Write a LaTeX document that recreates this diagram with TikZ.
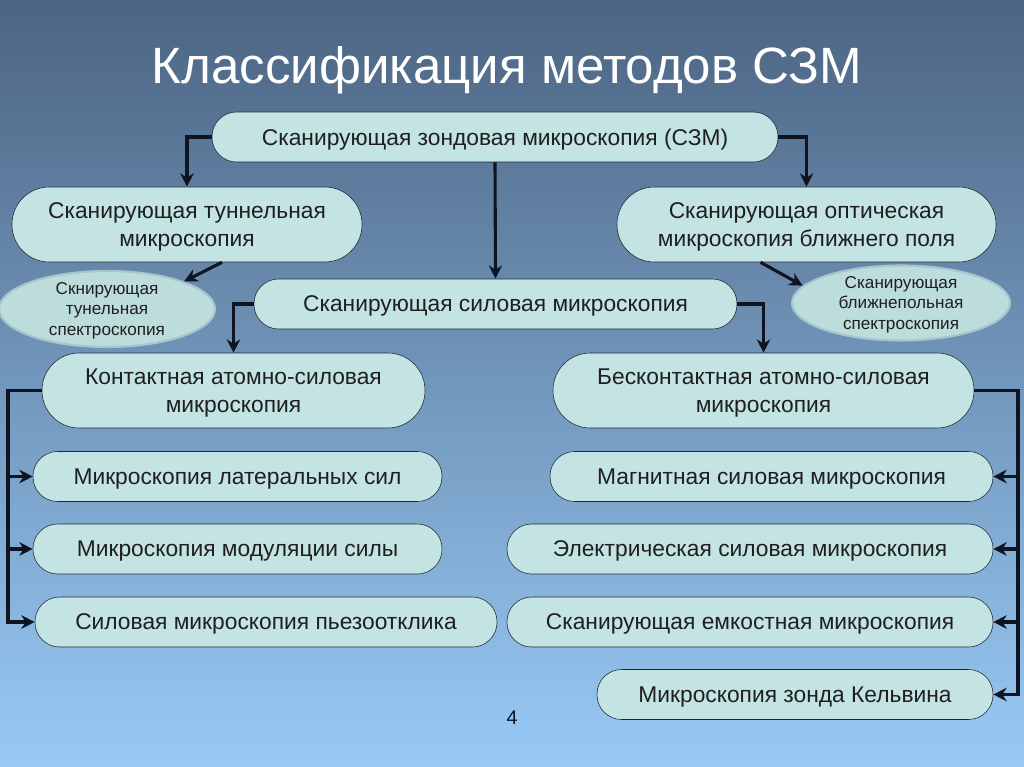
\documentclass[tikz,border=0pt]{standalone}
\usepackage{fontspec}
\setmainfont{Liberation Sans}
\usetikzlibrary{positioning, arrows.meta, shapes.geometric}
\definecolor{SlideTop}{RGB}{76,100,130}
\definecolor{SlideBottom}{RGB}{152,202,246}
\definecolor{BoxFill}{RGB}{196,228,228}
\definecolor{BoxEdge}{RGB}{30,40,50}
\definecolor{OvalFill}{RGB}{188,221,219}
\definecolor{OvalEdge}{RGB}{165,198,205}
\definecolor{InkDark}{RGB}{15,20,35}
\def\px{0.025cm}
\tikzset{
  pill/.style={draw=BoxEdge, thin, fill=BoxFill, rounded corners=17.5pt, minimum height=50*\px,
    inner sep=0pt, text depth=-1.5pt, align=center, font=\fontsize{16.2}{19.8}\selectfont, text=black!88},
  bigpill/.style={pill, rounded corners=26.5pt, minimum height=75*\px},
  oval/.style={ellipse, draw=OvalEdge, line width=1.5pt, fill=OvalFill, inner sep=0pt, text depth=-1.5pt,
    align=center, font=\fontsize{12.2}{14.6}\selectfont, text=black!88},
  arr/.style={-{Stealth[length=9.5pt,width=9.5pt]}, line width=2.2pt, InkDark},
}

\begin{document}
\begin{tikzpicture}[x=0.025cm, y=-0.025cm]
  \useasboundingbox (0,0) rectangle (1024,767);
  \shade[top color=SlideTop, bottom color=SlideBottom] (0,0) rectangle (1024,767);
  \node[font=\fontsize{36.3}{40}\selectfont, text=white] (title) at (507,70) {Классификация методов СЗМ};

  % top level
  \node[pill, minimum width=566*\px] (szm) at (495,137) {Сканирующая зондовая микроскопия (СЗМ)};
  \node[bigpill, minimum width=350*\px] (stm) at (187,224.5) {Сканирующая туннельная\\микроскопия};
  \node[bigpill, minimum width=379*\px] (som) at (806.5,224.5) {Сканирующая оптическая\\микроскопия ближнего поля};
  \node[oval, minimum width=216*\px, minimum height=76*\px] (stmspec) at (107,309) {Скнирующая\\тунельная\\спектроскопия};
  \node[oval, minimum width=218*\px, minimum height=75*\px] (somspec) at (901,303) {Сканирующая\\ближнепольная\\спектроскопия};
  \node[pill, minimum width=483*\px] (sfm) at (495.5,304) {Сканирующая силовая микроскопия};

  % atomic force branches
  \node[bigpill, minimum width=383*\px] (kasm) at (233.5,390.5) {Контактная атомно-силовая\\микроскопия};
  \node[bigpill, minimum width=421*\px] (basm) at (763.5,390.5) {Бесконтактная атомно-силовая\\микроскопия};
  \node[pill, minimum width=409*\px] (lat) at (237.5,476.5) {Микроскопия латеральных сил};
  \node[pill, minimum width=409*\px] (mod) at (237.5,549) {Микроскопия модуляции силы};
  \node[pill, minimum width=462*\px] (pzo) at (266,622) {Силовая микроскопия пьезоотклика};
  \node[pill, minimum width=443*\px] (mag) at (771.5,476.5) {Магнитная силовая микроскопия};
  \node[pill, minimum width=486*\px] (ele) at (750,549) {Электрическая силовая микроскопия};
  \node[pill, minimum width=486*\px] (emk) at (750,622) {Сканирующая емкостная микроскопия};
  \node[pill, minimum width=396*\px] (kel) at (795,694.5) {Микроскопия зонда Кельвина};

  \node[font=\fontsize{14}{16}\selectfont, text=InkDark] (page) at (512,718) {4};

  % connectors
  \draw[arr] (szm.west) -| (stm.north);
  \draw[arr] (szm.east) -| (som.north);
  \draw[arr] (szm.south) -- (sfm.north);
  \draw[arr] ([xshift=35*\px]stm.south) -- (stmspec.north east);
  \draw[arr] ([xshift=-46*\px]som.south) -- (somspec.170);
  \draw[arr] (sfm.west) -| (kasm.north);
  \draw[arr] (sfm.east) -| (basm.north);
  \coordinate (lbus) at (8,0);
  \coordinate (rbus) at (1018,0);
  \foreach \n in {lat,mod,pzo}
    \draw[arr] (kasm.west) -- (kasm.west -| lbus) |- (\n.west);
  \foreach \n in {mag,ele,emk,kel}
    \draw[arr] (basm.east) -- (basm.east -| rbus) |- (\n.east);
\end{tikzpicture}
\end{document}
